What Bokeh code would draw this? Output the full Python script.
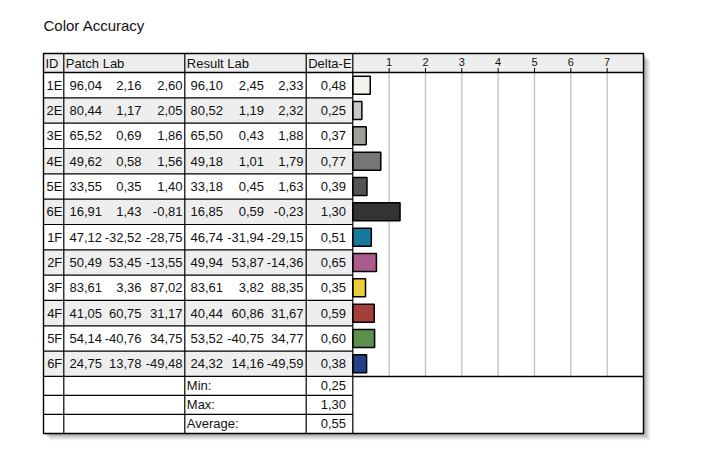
from bokeh.plotting import figure
from bokeh.models import Range1d
from bokeh.core.properties import value
from bokeh.embed import file_html
from bokeh.resources import INLINE

# ---- data ----
title = "Color Accuracy"
headers = ["ID", "Patch Lab", "Result Lab", "Delta-E"]
ids = ["1E", "2E", "3E", "4E", "5E", "6E", "1F", "2F", "3F", "4F", "5F", "6F"]
patch_L = [96.04, 80.44, 65.52, 49.62, 33.55, 16.91, 47.12, 50.49, 83.61, 41.05, 54.14, 24.75]
patch_a = [2.16, 1.17, 0.69, 0.58, 0.35, 1.43, -32.52, 53.45, 3.36, 60.75, -40.76, 13.78]
patch_b = [2.60, 2.05, 1.86, 1.56, 1.40, -0.81, -28.75, -13.55, 87.02, 31.17, 34.75, -49.48]
result_L = [96.10, 80.52, 65.50, 49.18, 33.18, 16.85, 46.74, 49.94, 83.61, 40.44, 53.52, 24.32]
result_a = [2.45, 1.19, 0.43, 1.01, 0.45, 0.59, -31.94, 53.87, 3.82, 60.86, -40.75, 14.16]
result_b = [2.33, 2.32, 1.88, 1.79, 1.63, -0.23, -29.15, -14.36, 88.35, 31.67, 34.77, -49.59]
delta_e = [0.48, 0.25, 0.37, 0.77, 0.39, 1.30, 0.51, 0.65, 0.35, 0.59, 0.60, 0.38]
bar_colors = ["#f4f1ee", "#cac8c6", "#a09e9b", "#777674", "#555453", "#333333",
              "#16789b", "#ad5b8c", "#eccd3b", "#a53e39", "#5b8f4c", "#223f87"]
summary_labels = ["Min:", "Max:", "Average:"]
summary_values = [0.25, 1.30, 0.55]
axis_ticks = [1, 2, 3, 4, 5, 6, 7]
axis_max = 8

# ---- layout constants (page pixels) ----
W, H = 685, 456
M = 0
X_L, X_ID, X_P, X_R, X_D, X_RIGHT = 43, 63.3, 184.3, 305.7, 352.3, 643
Y_TOP, Y_HDR = 53, 72
ROW_H = 25.33
SUM_H = 19
UNIT = (X_RIGHT - X_D) / axis_max
FONT = value("Liberation Sans")
FS = "13px"

def fmt(v):
    return f"{v:.2f}".replace(".", ",")

p = figure(width=W, height=H, output_backend="svg", toolbar_location=None,
           x_range=Range1d(M, M + W), y_range=Range1d(M + H, M),
           min_border=0, outline_line_color=None, background_fill_color="white",
           border_fill_color="white")
p.axis.visible = False
p.grid.visible = False
p.extra_x_ranges = {"de": Range1d((M - X_D) / UNIT, (M + W - X_D) / UNIT)}

n = len(ids)
row_tops = [Y_HDR + i * ROW_H for i in range(n)]
row_c = [t + ROW_H / 2 for t in row_tops]
Y_DATA_END = Y_HDR + n * ROW_H
sum_tops = [Y_DATA_END + i * SUM_H for i in range(len(summary_labels))]
sum_c = [t + SUM_H / 2 for t in sum_tops]
Y_BOT = Y_DATA_END + len(summary_labels) * SUM_H

# shadow
for k, a in zip(range(7, 0, -1), [0.05, 0.07, 0.09, 0.11, 0.13, 0.15, 0.17]):
    p.quad(left=X_L + k, right=X_RIGHT + k, top=Y_TOP + k, bottom=Y_BOT + k,
           fill_color="#606060", fill_alpha=a, line_color=None)
p.quad(left=X_L, right=X_RIGHT, top=Y_TOP, bottom=Y_BOT, fill_color="white", line_color=None)

# header background
p.quad(left=X_L, right=X_RIGHT, top=Y_TOP, bottom=Y_HDR, fill_color="#eeeeee", line_color=None)
# alternate row shading
gl = [X_L for i in range(n) if i % 2 == 1]
gt = [row_tops[i] for i in range(n) if i % 2 == 1]
p.quad(left=gl, right=[X_D] * len(gl), top=gt, bottom=[t + ROW_H for t in gt],
       fill_color="#eeeeee", line_color=None)

# grid lines in bar area
p.segment(x0=axis_ticks, x1=axis_ticks, y0=[Y_HDR] * 7, y1=[Y_DATA_END] * 7,
          x_range_name="de", line_color="#c0c0c0", line_width=1.3)
# tick marks in header
p.segment(x0=axis_ticks, x1=axis_ticks, y0=[Y_HDR - 4.5] * 7, y1=[Y_HDR] * 7,
          x_range_name="de", line_color="black", line_width=1)
p.text(x=axis_ticks, y=[61] * 7, text=[str(t) for t in axis_ticks], x_range_name="de",
       text_font=FONT, text_font_size="11px", text_align="center",
       text_baseline="middle", text_color="#111111")

# bars
p.hbar(y=row_c, left=0, right=delta_e, height=18, x_range_name="de",
       fill_color=bar_colors, line_color="black", line_width=1.5)

# table lines
hy = row_tops[1:] + [Y_DATA_END] + sum_tops[1:]
p.segment(x0=[X_L] * len(hy), x1=[X_D] * len(hy), y0=hy, y1=hy, line_color="black", line_width=1.2)
p.segment(x0=[X_L, X_D], x1=[X_RIGHT, X_RIGHT], y0=[Y_HDR, Y_DATA_END], y1=[Y_HDR, Y_DATA_END],
          line_color="black", line_width=1.4)
vx = [X_ID, X_P, X_R, X_D]
p.segment(x0=vx, x1=vx, y0=[Y_TOP] * 4, y1=[Y_BOT] * 4, line_color="black", line_width=1.2)
p.quad(left=X_L, right=X_RIGHT, top=Y_TOP, bottom=Y_BOT, fill_color=None,
       line_color="black", line_width=1.4)

# title
p.text(x=[X_L], y=[25], text=[title], text_font=FONT, text_font_size="15px",
       text_baseline="alphabetic", text_color="#111111")

# header texts
hc = Y_TOP + (Y_HDR - Y_TOP) / 2
p.text(x=[X_L + 2, X_ID + 2, X_P + 2, X_R + 2], y=[hc] * 4, text=headers, text_font=FONT,
       text_font_size=FS, text_baseline="middle", text_color="#111111")

common = dict(text_font=FONT, text_font_size=FS, text_baseline="middle",
              text_align="right", text_color="#111111")
p.text(x=[X_ID - 1.5] * n, y=row_c, text=ids, **common)
cols = [(patch_L, 101.5), (patch_a, 141), (patch_b, 182),
        (result_L, 222.5), (result_a, 263.5), (result_b, 303), (delta_e, 345.5)]
for vals, xr in cols:
    p.text(x=[xr] * n, y=row_c, text=[fmt(v) for v in vals], **common)

# summary
p.text(x=[X_P + 2] * 3, y=sum_c, text=summary_labels, text_font=FONT, text_font_size=FS,
       text_baseline="middle", text_color="#111111")
p.text(x=[345.5] * 3, y=sum_c, text=[fmt(v) for v in summary_values], **common)

open("out.html", "w").write(file_html(p, INLINE))
